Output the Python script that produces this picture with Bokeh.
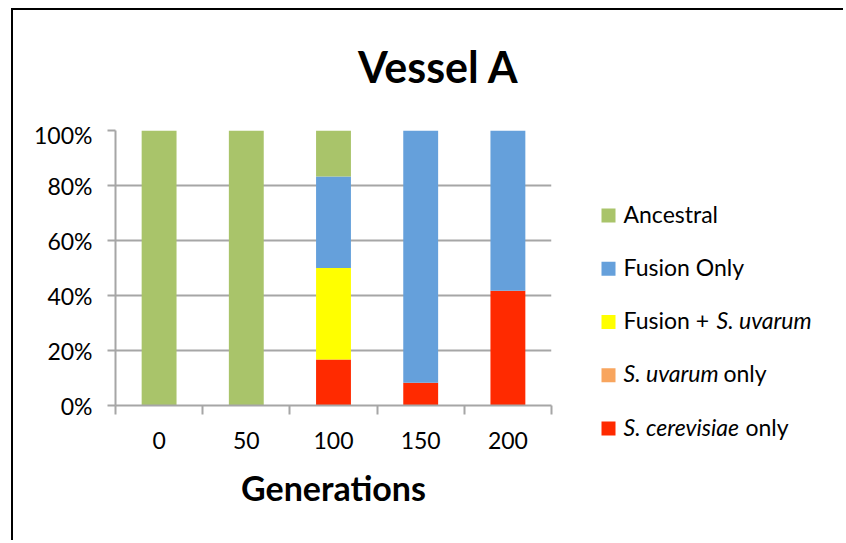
from bokeh.plotting import figure
from bokeh.layouts import row, column
from bokeh.models import ColumnDataSource, FixedTicker, NumeralTickFormatter
from bokeh.core.properties import value
from bokeh.embed import file_html
from bokeh.resources import INLINE

# ---------------- data ----------------
title_text = "Vessel A"
generations = ["0", "50", "100", "150", "200"]
ancestral = [1.0, 1.0, 0.167, 0.0, 0.0]
fusion_only = [0.0, 0.0, 0.333, 0.917, 0.583]
fusion_uvarum = [0.0, 0.0, 0.333, 0.0, 0.0]
uvarum_only = [0.0, 0.0, 0.0, 0.0, 0.0]
cerevisiae_only = [0.0, 0.0, 0.167, 0.083, 0.417]
y_ticks = [0.0, 0.2, 0.4, 0.6, 0.8, 1.0]

# legend text pieces (text, style)
legend_parts = [
    [("Ancestral", "normal")],
    [("Fusion Only", "normal")],
    [("Fusion + ", "normal"), ("S. uvarum", "italic")],
    [("S. uvarum", "italic"), ("only", "normal")],
    [("S. cerevisiae", "italic"), ("only", "normal")],
]

# ---------------- style ----------------
C_ANC = "#A9C46A"
C_FO = "#65A0DB"
C_FU = "#FFFF00"
C_UV = "#F8A55E"
C_CER = "#FF2A00"
GRAY = "#A6A6A6"
FONT = "Lato"

stack_keys = ["cer", "uva", "fu", "fo", "anc"]
stack_colors = [C_CER, C_UV, C_FU, C_FO, C_ANC]
legend_colors = [C_ANC, C_FO, C_FU, C_UV, C_CER]

x_centers = [i + 0.5 for i in range(len(generations))]
x_bounds = [float(i) for i in range(len(generations) + 1)]

source = ColumnDataSource(dict(x=x_centers, anc=ancestral, fo=fusion_only,
                               fu=fusion_uvarum, uva=uvarum_only,
                               cer=cerevisiae_only))

# canvas origin of the layout in the window
CX0, CY0 = 13, 10
TOTAL_W = 830
TITLE_H = 110
BODY_H = 420
MAIN_W = 542
LEG_W = TOTAL_W - MAIN_W
BODY_Y0 = CY0 + TITLE_H


def blank(width, height):
    f = figure(width=width, height=height, x_range=(0, width), y_range=(height, 0),
               output_backend="svg", toolbar_location=None,
               x_axis_location=None, y_axis_location=None,
               min_border=0, outline_line_color=None)
    f.grid.visible = False
    f.background_fill_color = "white"
    f.border_fill_color = "white"
    f.frame_align = False
    return f


# ---------------- title panel ----------------
tf = blank(TOTAL_W, TITLE_H)
tf.text(x=[438 - CX0], y=[66 - CY0], text=[title_text], text_font=value(FONT),
        text_font_style="bold", text_font_size="43px", text_color="black",
        text_align="center", text_baseline="alphabetic")

# ---------------- main plot ----------------
p = figure(width=MAIN_W, height=BODY_H, x_range=(0, len(generations)), y_range=(0, 1),
           output_backend="svg", toolbar_location=None,
           min_border_left=102, min_border_right=4,
           min_border_top=10, min_border_bottom=135)
p.frame_align = False
p.outline_line_color = None
p.background_fill_color = "white"
p.border_fill_color = "white"

p.vbar_stack(stack_keys, x="x", width=0.4, color=stack_colors, source=source,
             line_width=0)

# grid
p.xgrid.grid_line_color = None
p.ygrid.grid_line_color = GRAY
p.ygrid.grid_line_width = 2
p.ygrid.ticker = FixedTicker(ticks=y_ticks)

# y axis
ya = p.yaxis[0]
ya.ticker = FixedTicker(ticks=y_ticks)
ya.formatter = NumeralTickFormatter(format="0%")
ya.axis_line_color = GRAY
ya.axis_line_width = 2
ya.major_tick_line_color = GRAY
ya.major_tick_line_width = 2
ya.major_tick_out = 8
ya.major_tick_in = 0
ya.minor_tick_line_color = None
ya.major_label_text_font = FONT
ya.major_label_text_font_size = "23px"
ya.major_label_text_color = "black"
ya.major_label_standoff = 15

# x axis
xa = p.xaxis[0]
xa.ticker = FixedTicker(ticks=x_centers, minor_ticks=x_bounds)
xa.major_label_overrides = {c: g for c, g in zip(x_centers, generations)}
xa.axis_line_color = GRAY
xa.axis_line_width = 2
xa.major_tick_line_color = None
xa.major_tick_out = 0
xa.major_tick_in = 0
xa.minor_tick_line_color = GRAY
xa.minor_tick_line_width = 2
xa.minor_tick_out = 9
xa.minor_tick_in = 0
xa.major_label_text_font = FONT
xa.major_label_text_font_size = "23px"
xa.major_label_text_color = "black"
xa.major_label_standoff = 17
xa.axis_label = "Generations"
xa.axis_label_text_font = FONT
xa.axis_label_text_font_style = "bold"
xa.axis_label_text_font_size = "34px"
xa.axis_label_text_color = "black"
xa.axis_label_standoff = 15

# ---------------- legend panel (pixel-like coordinates) ----------------
LX0 = CX0 + MAIN_W  # absolute x of legend panel
lp = blank(LEG_W, BODY_H)

second_x = [None, None, 716, 723, 745]
sq_left, sq_right, sq_top, sq_bottom = [], [], [], []
tx, ty, tt, ts = [], [], [], []
for i, parts in enumerate(legend_parts):
    cy = 215 + 53.25 * i
    sq_left.append(601 - LX0)
    sq_right.append(615 - LX0)
    sq_top.append(cy - 7 - BODY_Y0)
    sq_bottom.append(cy + 7 - BODY_Y0)
    xs = [623, second_x[i]]
    for j, (txt, style) in enumerate(parts):
        tx.append(xs[j] - LX0)
        ty.append(cy - 2 - BODY_Y0)
        tt.append(txt)
        ts.append(style)

lp.quad(left=sq_left, right=sq_right, top=sq_top, bottom=sq_bottom,
        fill_color=legend_colors, line_color=None)
lp.text(x=tx, y=ty, text=tt, text_font_style=ts, text_font=value(FONT),
        text_font_size="23px", text_color="black", text_align="left",
        text_baseline="alphabetic")

layout = column(tf, row(p, lp, spacing=0), spacing=0,
                styles={"margin-left": "11px", "margin-top": "8px",
                        "border-left": "2px solid black",
                        "border-top": "2px solid black"})

open("out.html", "w").write(file_html(layout, INLINE))
